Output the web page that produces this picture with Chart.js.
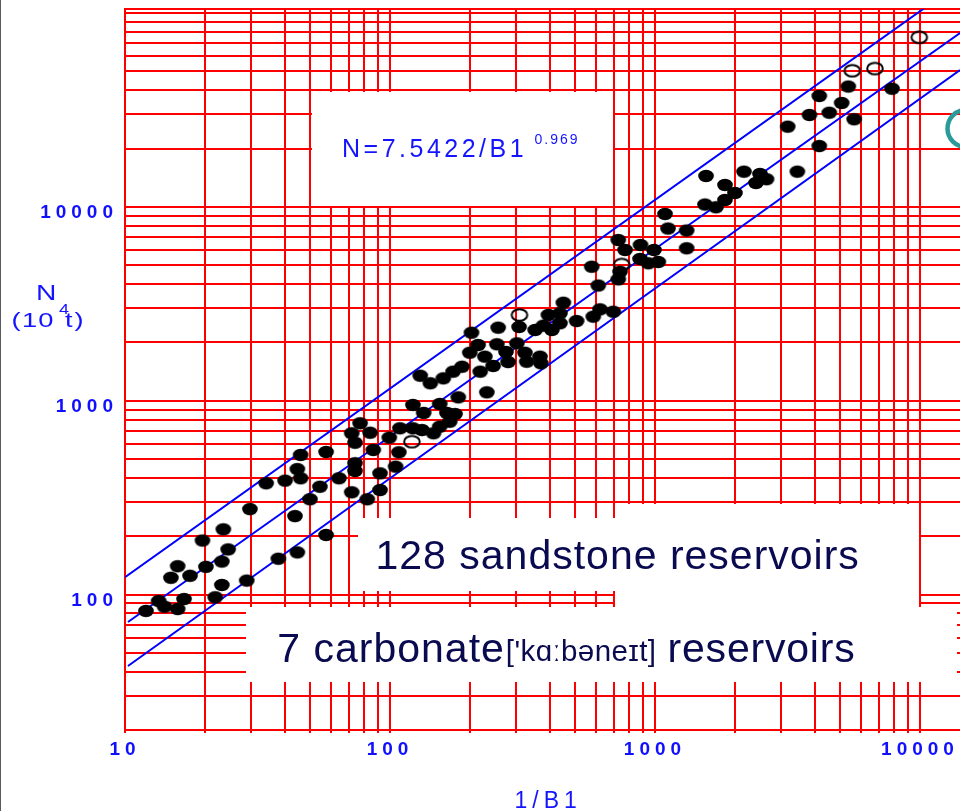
<!DOCTYPE html>
<html>
<head>
<meta charset="utf-8">
<title>N vs 1/B1</title>
<script src="https://cdn.jsdelivr.net/npm/chart.js@4.4.1/dist/chart.umd.min.js"></script>
<style>
  html, body { margin: 0; padding: 0; background: #fff; overflow: hidden; }
  #wrap { position: relative; width: 960px; height: 811px; }
</style>
</head>
<body>
<div id="wrap"><canvas id="chart" width="960" height="811"></canvas></div>
<script>
// 128 sandstone reservoirs: 1/B1 and N (10^4 t)
const sandX = [
  12.0, 13.4, 14.1, 15.8, 16.7, 14.9, 15.8, 17.6, 19.6, 20.2, 23.2, 24.5, 23.5, 21.9, 23.2,
  28.8, 29.6, 34.1, 40.2, 46.0, 44.7, 46.0, 57.4, 54.4, 49.9, 43.8, 37.9, 44.7, 57.4, 64.2,
  71.7, 82.1, 91.7, 73.8, 73.8, 91.7, 105, 86.5, 71.7, 73.8, 77.1, 84.1, 99.4, 109, 108,
  122, 134, 122, 132, 146, 154, 154, 164, 168, 176, 181, 130, 142, 159, 173,
  187, 203, 215, 200, 219, 228, 245, 232, 256, 253,
  274, 279, 301, 307, 323, 328, 368, 371, 353, 379, 396, 408, 438, 438, 451,
  506, 577, 611, 585, 620, 696, 727, 738, 727, 771, 882, 878, 944, 991, 1029,
  1091, 1120, 1317, 1317, 1558, 1837, 2004, 1837, 1544, 1699, 2167, 2490, 2635, 2405, 3444,
  3168, 3828, 4169, 4547, 5064, 5362, 5644, 4169, 7841
];
const sandY = [
  82.3, 92.6, 86.5, 84.2, 94.8, 122, 140, 125, 190, 139, 148, 171, 217, 96.8, 112,
  118, 276, 375, 387, 525, 444, 398, 544, 360, 310, 254, 153, 165, 203, 398,
  337, 310, 346, 476, 434, 422, 457, 557, 679, 607, 765, 684, 645, 721, 542,
  951, 865, 721, 706, 679, 735, 962, 865, 779, 854, 1041, 1346, 1230, 1305, 1412,
  1498, 2244, 1939, 1769, 1412, 1688, 1511, 1105, 2382, 1955,
  1784, 1584, 1978, 2402, 1769, 1590, 1688, 1560, 2317, 2439, 2769, 2317, 2826, 2509, 3204,
  2578, 4914, 3931, 2714, 2962, 2879, 4231, 4632, 6749, 5994, 6361, 5386, 5119, 5994, 5199,
  9194, 7738, 7556, 6116, 14440, 12980, 11800, 10860, 10290, 9954, 15200, 14790, 13900, 13290, 15200,
  25940, 29810, 37360, 30630, 34380, 41800, 28320, 20620, 40740
];

// 7 carbonate reservoirs (open circles)
const carbX = [121, 308, 749, 5552, 6764, 9940];
const carbY = [615, 2769, 5047, 50440, 51780, 75030];

// fitted line N = 7.5422/B1^0.969 and the two band limits (end points)
const fitX = [10.26, 14157];
const fitY = [72.2, 78950];
const upperX = [10, 10530];
const upperY = [123, 107500];
const lowerX = [10.26, 14157];
const lowerY = [42.8, 50870];

// grid lines and labelled ticks
const xGrid = [10, 20, 30, 40, 50, 60, 70, 80, 90,
  100, 200, 300, 400, 500, 600, 700, 800, 900,
  1000, 2000, 3000, 4000, 5000, 6000, 7000, 8000, 9000, 10000];
const yGrid = [20, 30, 40, 50, 60, 70, 80, 90,
  100, 200, 300, 400, 500, 600, 700, 800, 900,
  1000, 2000, 3000, 4000, 5000, 6000, 7000, 8000, 9000,
  10000, 20000, 30000, 40000, 50000, 60000, 70000, 80000, 90000, 100000, 105000];
const xLabels = [10, 100, 1000, 10000];
const yLabels = [100, 1000, 10000];

const xMin = 10, xMax = 14157, yMin = 20, yMax = 105000;

function pairs(xs, ys) {
  return xs.map((x, i) => ({ x: x, y: ys[i] }));
}

function dotImage(filled) {
  const c = document.createElement('canvas');
  c.width = 20;
  c.height = 16;
  const g = c.getContext('2d');
  g.beginPath();
  if (filled) {
    g.ellipse(10, 8, 7.8, 6.2, 0, 0, Math.PI * 2);
    g.fillStyle = '#000';
    g.fill();
  } else {
    g.ellipse(10, 8, 7.8, 5.8, 0, 0, Math.PI * 2);
    g.lineWidth = 2;
    g.strokeStyle = '#000';
    g.stroke();
  }
  return c;
}

function drawText(ctx, str, x, y, font, color, spacing, sx) {
  sx = sx || 1;
  ctx.save();
  ctx.font = font;
  ctx.fillStyle = color;
  ctx.letterSpacing = (spacing || 0) + 'px';
  ctx.textAlign = 'left';
  ctx.textBaseline = 'alphabetic';
  ctx.translate(x, y);
  ctx.scale(sx, 1);
  ctx.fillText(str, 0, 0);
  const w = ctx.measureText(str).width * sx;
  ctx.restore();
  return x + w;
}

const blue = '#1414ff';
const navy = '#0a0a50';
const font = '"Liberation Sans", Arial, sans-serif';

// white label boxes pasted over the grid, plus all free text
const paperPlugin = {
  id: 'paper',
  beforeDraw(chart) {
    chart.ctx.letterSpacing = '5px';
  },
  beforeDatasetsDraw(chart) {
    const ctx = chart.ctx;
    const X = v => Math.round(chart.scales.x.getPixelForValue(v));
    const Y = v => Math.round(chart.scales.y.getPixelForValue(v));
    ctx.letterSpacing = '0px';
    ctx.save();
    ctx.fillStyle = '#fff';
    const rect = (x0, y0, x1, y1) => ctx.fillRect(x0, y0, x1 - x0, y1 - y0);
    rect(X(50) + 2, Y(40000) + 2, X(700) - 1, Y(10000) - 1);
    rect(X(80) - 6, Y(200) - 18, X(700) + 2, Y(100) - 4);
    rect(X(700) + 1, Y(300) + 2, X(10000) - 1, Y(90) + 6);
    rect(X(30) - 5, Y(90) + 4, 957, Y(40) + 10);
    ctx.restore();
  },
  afterDraw(chart) {
    const ctx = chart.ctx;
    drawText(ctx, 'N=7.5422/B1', 342, 157, '25px ' + font, blue, 3.5);
    drawText(ctx, '0.969', 534.5, 144, '14px ' + font, blue, 2);

    drawText(ctx, '128 sandstone reservoirs', 375.5, 569, '41px ' + font, navy, 1);
    let x = drawText(ctx, '7 carbonate', 277.3, 662, '41px ' + font, navy, 1);
    x = drawText(ctx, "['kɑːbəneɪt]", x + 1, 661, '29.5px ' + font, navy, 0.4);
    drawText(ctx, ' reservoirs', x - 1, 662, '41px ' + font, navy, 0.8);

    drawText(ctx, '1/B1', 514.5, 808, '23px ' + font, blue, 5);
    drawText(ctx, 'N', 36, 300, '22px ' + font, blue, 0, 1.28);
    drawText(ctx, '(10', 11.5, 327, '21px ' + font, blue, 1, 1.3);
    drawText(ctx, '4', 59, 314, '15px ' + font, blue, 0, 1.2);
    drawText(ctx, 't)', 65, 327, '21px ' + font, blue, 1.5, 1.3);

    ctx.save();
    ctx.strokeStyle = '#2a9b98';
    ctx.lineWidth = 4.5;
    ctx.beginPath();
    ctx.arc(966, 128.5, 18.5, 0, Math.PI * 2);
    ctx.stroke();
    ctx.fillStyle = '#5a5a5a';
    ctx.fillRect(0, 0, 1, 811);
    ctx.restore();
  }
};

const tickFont = { family: font, size: 19, weight: 'bold' };

new Chart(document.getElementById('chart'), {
  type: 'scatter',
  data: {
    datasets: [
      {
        label: '128 sandstone reservoirs',
        data: pairs(sandX, sandY),
        pointStyle: dotImage(true),
        pointRadius: 8
      },
      {
        label: '7 carbonate reservoirs',
        data: pairs(carbX, carbY),
        pointStyle: dotImage(false),
        pointRadius: 8
      },
      {
        label: 'upper',
        data: pairs(upperX, upperY),
        showLine: true,
        borderColor: '#0000ff',
        borderWidth: 2,
        pointRadius: 0
      },
      {
        label: 'N=7.5422/B1^0.969',
        data: pairs(fitX, fitY),
        showLine: true,
        borderColor: '#0000ff',
        borderWidth: 2,
        pointRadius: 0
      },
      {
        label: 'lower',
        data: pairs(lowerX, lowerY),
        showLine: true,
        borderColor: '#0000ff',
        borderWidth: 2,
        pointRadius: 0
      }
    ]
  },
  options: {
    responsive: false,
    animation: false,
    events: [],
    layout: { autoPadding: false, padding: { top: 9, left: 0, right: 0, bottom: 0 } },
    plugins: {
      legend: { display: false },
      tooltip: { enabled: false }
    },
    scales: {
      x: {
        type: 'logarithmic',
        min: xMin,
        max: xMax,
        bounds: 'data',
        afterBuildTicks: s => { s.ticks = xGrid.map(v => ({ value: v })); },
        afterFit: s => { s.height = 81; s.paddingLeft = 0; s.paddingRight = 0; },
        grid: { color: '#ff0000', lineWidth: 2, drawTicks: true, tickLength: 3, tickColor: '#ff0000' },
        border: { display: true, color: '#ff0000', width: 2 },
        ticks: {
          autoSkip: false,
          maxRotation: 0,
          padding: 5,
          color: '#1010ff',
          font: tickFont,
          callback: v => xLabels.includes(v) ? String(v) : ''
        }
      },
      y: {
        type: 'logarithmic',
        min: yMin,
        max: yMax,
        bounds: 'data',
        afterBuildTicks: s => { s.ticks = yGrid.map(v => ({ value: v })); },
        afterFit: s => { s.width = 125; s.paddingTop = 0; s.paddingBottom = 0; },
        grid: { color: '#ff0000', lineWidth: 2, drawTicks: false },
        border: { display: true, color: '#ff0000', width: 2 },
        ticks: {
          autoSkip: false,
          padding: 7,
          labelOffset: 6,
          color: '#1010ff',
          font: tickFont,
          callback: v => yLabels.includes(v) ? String(v) : ''
        }
      }
    }
  },
  plugins: [paperPlugin]
});
</script>
</body>
</html>
